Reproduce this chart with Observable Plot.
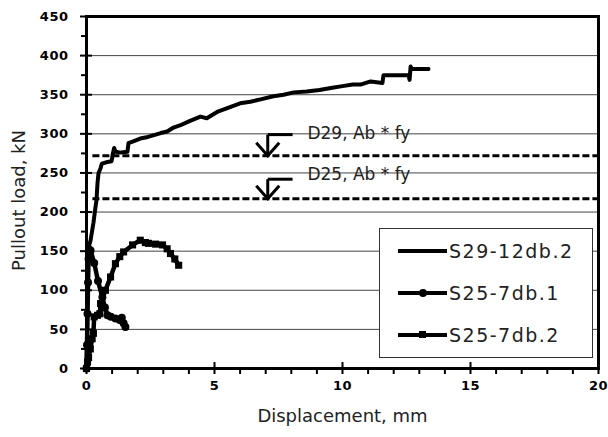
<!DOCTYPE html>
<html>
<head>
<meta charset="utf-8">
<script src="https://cdn.jsdelivr.net/npm/d3@7"></script>
<script src="https://cdn.jsdelivr.net/npm/@observablehq/plot@0.6"></script>
<style>
  html, body { margin: 0; padding: 0; background: #fff; }
  #wrap { position: relative; width: 608px; height: 437px; }
  #wrap svg g[aria-label="y-axis tick label"], #wrap svg g[aria-label="x-axis tick label"] {
    font-family: "DejaVu Sans"; font-weight: bold; font-size: 13px; letter-spacing: 0.5px; }
  #legend { position: absolute; left: 379px; top: 228px; width: 212px; height: 128px;
    border: 1px solid #333; background: #fff; font-family: "DejaVu Sans"; font-size: 19px;
    letter-spacing: 1.5px; color: #222; }
  .item { position: absolute; left: 18px; height: 24px; display: flex; align-items: center; }
  .item svg { display: block; }
  .item span { margin-left: 1px; line-height: 24px; }
</style>
</head>
<body>
<div id="wrap"></div>
<script>
// ---------- data ----------
const xMajor = [0, 5, 10, 15, 20];
const xMinor = [1, 2, 3, 4, 6, 7, 8, 9, 11, 12, 13, 14, 16, 17, 18, 19];
const yMajor = [0, 50, 100, 150, 200, 250, 300, 350, 400, 450];
const yMinor = [25, 75, 125, 175, 225, 275, 325, 375, 425];
const gridLoads = [50, 100, 150, 200, 250, 300, 350, 400];

const seriesNames = ["S29-12db.2", "S25-7db.1", "S25-7db.2"];

const s29Disp = [0, 0.02, 0.03, 0.04, 0.05, 0.16, 0.27, 0.35, 0.39, 0.43, 0.47, 0.55, 0.6, 0.82, 0.98,
  1.02, 1.08, 1.13, 1.35, 1.6, 1.64, 1.8, 2.1, 2.4, 2.6, 2.9, 3.15, 3.4, 3.67, 4.0, 4.45, 4.7, 5.1,
  5.5, 6.0, 6.4, 6.8, 7.3, 7.7, 8.1, 8.6, 9.1, 9.6, 10.0, 10.4, 10.7, 11.1, 11.56, 11.6, 12.58,
  12.62, 12.66, 12.7, 13.36];
const s29Load = [0, 40, 90, 130, 151, 164, 186, 206, 215, 237, 250, 256, 262, 264, 265,
  273, 282, 277, 276, 277, 288, 290, 294, 296, 298, 301, 303, 308, 311, 316, 322, 320, 328,
  333, 339, 341, 344, 348, 350, 353, 354, 356, 359, 361, 363, 363, 367, 365, 375, 375,
  369, 386, 383, 383];

const s25aDisp = [0, 0.02, 0.04, 0.06, 0.08, 0.1, 0.16, 0.3, 0.45, 0.62, 0.72, 0.82, 0.95, 1.13, 1.3, 1.38, 1.45, 1.52];
const s25aLoad = [0, 30, 70, 110, 140, 152, 151, 135, 112, 91, 78, 68, 66, 64, 62, 65, 58, 53];

const s25bDisp = [0, 0.04, 0.08, 0.15, 0.22, 0.27, 0.3, 0.43, 0.52, 0.55, 0.74, 0.94, 1.13, 1.3, 1.45,
  1.8, 2.1, 2.3, 2.42, 2.7, 2.97, 3.15, 3.28, 3.45, 3.6];
const s25bLoad = [0, 8, 14, 25, 38, 45, 66, 68, 70, 83, 100, 117, 134, 143, 149,
  158, 164, 161, 160, 159, 158, 153, 147, 140, 132];

const yieldLabels = ["D29, Ab * fy", "D25, Ab * fy"];
const yieldLoads = [272, 217];
const arrowTailLoads = [299, 242];
const labelLoads = [294, 241];
const arrowDisp = 7.08;
const tailDisp = 8.05;
const labelDisp = 8.63;
const dashStart = 0.25;
const dashEnd = 20;

// ---------- tables ----------
const toRows = (xs, ys) => xs.map((x, i) => ({x, y: ys[i]}));
const s29 = toRows(s29Disp, s29Load);
const s25a = toRows(s25aDisp, s25aLoad);
const s25b = toRows(s25bDisp, s25bLoad);
const yieldTable = yieldLabels.map((label, i) => ({
  label, load: yieldLoads[i], tail: arrowTailLoads[i], ly: labelLoads[i],
  ax: arrowDisp, tx: tailDisp, lx: labelDisp, x1: dashStart, x2: dashEnd
}));

const vSymbol = {draw(ctx) { ctx.moveTo(-11.5, -13); ctx.lineTo(0, 0); ctx.lineTo(11.5, -13); }};

const chart = Plot.plot({
  width: 608,
  height: 437,
  marginLeft: 86,
  marginRight: 10,
  marginTop: 16,
  marginBottom: 69,
  style: {fontFamily: "DejaVu Sans", background: "#fff", color: "#000"},
  x: {domain: [0, 20]},
  y: {domain: [0, 450]},
  marks: [
    Plot.ruleY(gridLoads, {stroke: "#444", strokeWidth: 1}),
    Plot.ruleY(yieldTable, {y: "load", x1: "x1", x2: "x2", stroke: "#000", strokeWidth: 3, strokeDasharray: "7,3"}),
    // arrows
    Plot.link(yieldTable, {x1: "tx", y1: "tail", x2: "ax", y2: "tail", stroke: "#000", strokeWidth: 3}),
    Plot.link(yieldTable, {x1: "ax", y1: "tail", x2: "ax", y2: "load", stroke: "#000", strokeWidth: 3}),
    Plot.dot(yieldTable, {x: "ax", y: "load", symbol: vSymbol, r: 5, fill: "none", stroke: "#000", strokeWidth: 3, strokeLinejoin: "miter"}),
    Plot.text(yieldTable, {x: "lx", y: "ly", text: "label", textAnchor: "start", lineAnchor: "bottom",
      fontFamily: "DejaVu Sans", fontSize: 17, fill: "#222", style: "letter-spacing:1.7px"}),
    // series
    Plot.line(s25a, {x: "x", y: "y", stroke: "#000", strokeWidth: 4.5, strokeLinejoin: "round"}),
    Plot.dot(s25a, {x: "x", y: "y", r: 4, fill: "#000"}),
    Plot.line(s25b, {x: "x", y: "y", stroke: "#000", strokeWidth: 4.5, strokeLinejoin: "round"}),
    Plot.dot(s25b, {x: "x", y: "y", r: 4, symbol: "square", fill: "#000"}),
    Plot.line(s29, {x: "x", y: "y", stroke: "#000", strokeWidth: 4, strokeLinejoin: "round"}),
    // axes
    Plot.axisY(yMajor, {tickSize: 12, dx: 6, tickFormat: () => "", label: null, strokeWidth: 2}),
    Plot.axisY(yMinor, {tickSize: 5, tickFormat: () => "", label: null, strokeWidth: 2}),
    Plot.axisY(yMajor, {tickSize: 0, tickPadding: 18, label: null, fill: "#000"}),
    Plot.axisX(xMajor, {tickSize: 12, dy: -6, tickFormat: () => "", label: null, strokeWidth: 2}),
    Plot.axisX(xMinor, {tickSize: 6, tickFormat: () => "", label: null, strokeWidth: 2}),
    Plot.axisX(xMajor, {tickSize: 0, tickPadding: 12, label: null, fill: "#000"}),
    Plot.frame({stroke: "#000", strokeWidth: 3}),
    // axis titles
    Plot.text(["Pullout load, kN"], {text: d => d, frameAnchor: "left", textAnchor: "middle", dx: -67.5, dy: 8, rotate: -90,
      fontFamily: "DejaVu Sans", fontSize: 18, fill: "#222"}),
    Plot.text(["Displacement, mm"], {text: d => d, frameAnchor: "bottom", dy: 53, lineAnchor: "bottom",
      fontFamily: "DejaVu Sans", fontSize: 18, fill: "#222", style: "letter-spacing:1px"})
  ]
});

const wrap = document.getElementById("wrap");
wrap.appendChild(chart);

// ---------- legend ----------
const legend = document.createElement("div");
legend.id = "legend";
const rowTops = [10, 52, 94];
const markers = ["", "circle", "square"];
seriesNames.forEach((name, i) => {
  const item = document.createElement("div");
  item.className = "item";
  item.style.top = rowTops[i] + "px";
  let m = "";
  if (markers[i] === "circle") m = '<circle cx="25" cy="12" r="4" fill="#000"/>';
  if (markers[i] === "square") m = '<rect x="21" y="8" width="7" height="7" fill="#000"/>';
  item.innerHTML = `<svg width="50" height="24"><line x1="0" y1="12" x2="49" y2="12" stroke="#000" stroke-width="4"/>${m}</svg><span>${name}</span>`;
  legend.appendChild(item);
});
wrap.appendChild(legend);
</script>
</body>
</html>
